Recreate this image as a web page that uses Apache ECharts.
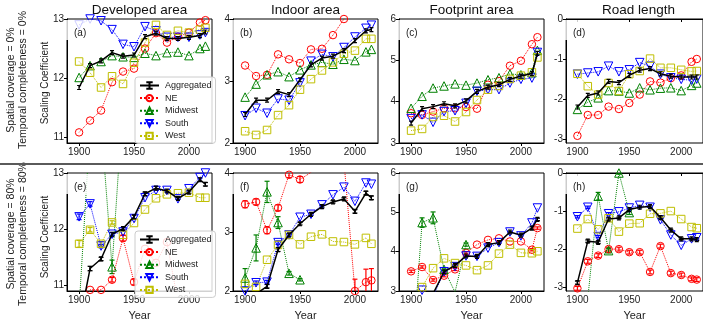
<!DOCTYPE html>
<html>
<head>
<meta charset="utf-8">
<script src="https://cdn.jsdelivr.net/npm/echarts@6/dist/echarts.min.js"></script>
<style>
  html, body { margin: 0; padding: 0; background: #fff; }
  #chart { width: 703px; height: 322px; }
</style>
</head>
<body>
<div id="chart"></div>
<script>
// years sampled in every panel
const years = [1900, 1910, 1920, 1930, 1940, 1950, 1960, 1970, 1980, 1990, 2000, 2010, 2015]

// top row: spatial coverage = 0%, temporal completeness = 0%
const panelA = {
  agg:   [11.84, 12.21, 12.29, 12.43, 12.37, 12.39, 12.70, 12.76, 12.67, 12.67, 12.69, 12.72, 12.78],
  ne:    [11.08, 11.28, 11.45, 11.93, 12.11, 12.16, 12.50, 12.76, 12.60, 12.70, 12.77, 12.94, 12.98],
  mw:    [12.01, 12.21, 12.28, 12.38, 12.36, 12.35, 12.42, 12.38, 12.43, 12.44, 12.38, 12.50, 12.54],
  south: [12.90, 13.00, 12.97, 12.82, 12.57, 12.53, 12.87, 12.80, 12.69, 12.69, 12.69, 12.73, 12.77],
  west:  [12.28, 12.09, 11.84, 12.03, 11.90, 12.26, 12.60, 12.90, 12.73, 12.80, 12.77, 12.82, 12.85]
}
const panelB = {
  agg:   [2.46, 2.69, 2.69, 2.83, 2.78, 3.02, 3.26, 3.37, 3.40, 3.49, 3.65, 3.81, 3.83],
  ne:    [3.25, 3.08, 3.10, 3.43, 3.35, 3.29, 3.51, 3.52, 3.74, 4.00, 4.20, 4.30, 4.35],
  mw:    [2.74, 2.95, 3.10, 3.15, 3.07, 3.18, 3.26, 3.30, 3.27, 3.35, 3.33, 3.47, 3.51],
  south: [2.44, 2.56, 2.48, 2.71, 2.69, 2.97, 3.32, 3.43, 3.39, 3.54, 3.71, 3.85, 3.90],
  west:  [2.19, 2.13, 2.21, 2.45, 2.61, 2.86, 3.03, 3.17, 3.30, 3.44, 3.49, 3.68, 3.68]
}
const panelC = {
  agg:   [3.48, 3.83, 3.88, 3.95, 3.90, 4.02, 4.25, 4.35, 4.41, 4.54, 4.62, 4.68, 5.17],
  ne:    [3.72, 3.68, 3.76, 3.84, 3.84, 3.87, 3.83, 4.41, 4.50, 4.87, 4.99, 5.39, 5.56],
  mw:    [3.84, 4.13, 4.33, 4.38, 4.43, 4.40, 4.45, 4.53, 4.58, 4.67, 4.65, 4.70, 5.24],
  south: [3.59, 3.68, 3.50, 3.76, 3.78, 3.96, 4.25, 4.29, 4.29, 4.45, 4.54, 4.57, 5.19],
  west:  [3.30, 3.34, 3.63, 3.66, 3.52, 3.75, 4.04, 4.29, 4.38, 4.55, 4.63, 4.71, 5.07]
}
const panelD = {
  agg:   [-2.20, -1.91, -1.85, -1.56, -1.59, -1.41, -1.28, -1.24, -1.37, -1.43, -1.45, -1.45, -1.45],
  ne:    [-2.92, -2.40, -2.40, -2.19, -2.25, -2.10, -1.89, -1.56, -1.59, -1.48, -1.41, -1.07, -1.00],
  mw:    [-2.26, -2.08, -1.97, -1.79, -1.80, -1.85, -1.72, -1.77, -1.73, -1.72, -1.79, -1.66, -1.60],
  south: [-1.38, -1.35, -1.32, -1.18, -1.32, -1.27, -1.09, -1.18, -1.38, -1.47, -1.51, -1.53, -1.50],
  west:  [-1.37, -1.68, -1.89, -1.60, -1.80, -1.38, -1.30, -0.99, -1.22, -1.22, -1.27, -1.31, -1.30]
}

// bottom row: spatial coverage = 80%, temporal completeness = 80%
const panelE = {
  agg:   [10.30, 11.30, 11.47, 11.91, 12.01, 12.22, 12.63, 12.73, 12.68, 12.55, 12.66, 12.88, 12.80],
  ne:    [10.50, 10.92, 10.92, 11.10, 11.84, 11.06, 11.65, 11.40, 11.77, 10.70, 10.60, 10.50, 10.50],
  mw:    [10.60, 13.80, 13.90, 11.33, 14.26, null, null, null, null, null, null, null, null],
  south: [12.22, 12.45, 11.70, 11.91, 11.95, 12.19, 12.56, 12.69, 12.69, 12.54, 12.72, 12.92, 13.00],
  west:  [11.74, 11.99, 11.74, 12.12, 11.90, 12.11, 12.35, 12.55, 12.62, 12.64, 12.65, 12.56, 12.56]
}
const panelF = {
  agg:   [1.60, 1.95, 2.08, 2.70, 2.95, 3.14, 3.30, 3.43, 3.51, 3.56, 3.35, 3.66, 3.58],
  ne:    [3.47, 3.51, 3.03, 3.41, 3.97, 3.89, 4.01, 4.20, 4.30, 4.20, 2.00, 2.15, 2.18],
  mw:    [2.22, 2.73, 3.68, 3.16, 2.30, 2.19, null, null, null, null, null, null, null],
  south: [2.00, 2.14, 2.15, 2.82, 2.95, 3.25, 3.30, 3.46, 3.63, 3.76, 3.52, 3.83, 3.81],
  west:  [2.12, 2.07, 2.53, 2.78, 2.95, 2.79, 2.92, 2.96, 2.84, 2.83, 2.79, 2.90, 2.80]
}
const panelG = {
  agg:   [2.40, 2.70, 2.93, 3.49, 3.65, 3.89, 3.88, 4.18, 4.23, 4.50, 4.42, 4.60, 4.82],
  ne:    [3.50, 3.61, 3.28, 3.39, 3.55, 3.97, 4.18, 4.30, 4.34, 4.26, 4.26, 4.05, 4.60],
  mw:    [0.90, 4.74, 4.86, 3.55, 2.97, 4.18, null, null, null, null, null, null, null],
  south: [null, 3.02, 2.85, 3.49, 3.62, 3.89, 3.88, 4.09, 4.23, 4.50, 4.40, 4.73, 5.11],
  west:  [null, 3.10, 3.58, 3.83, 3.71, 3.65, 3.53, 3.65, 3.95, 4.18, 3.97, 3.96, 4.01]
}
const panelH = {
  agg:   [-2.88, -1.79, -1.82, -1.21, -1.18, -0.96, -0.90, -0.88, -1.17, -1.50, -1.73, -1.73, -1.75],
  ne:    [-3.03, -2.32, -2.17, -2.00, -2.00, -2.08, -2.08, -2.60, -1.92, -2.63, -2.68, -2.78, -2.80],
  mw:    [-3.60, -3.30, -0.61, -2.04, 0.00, -1.04, null, null, null, null, null, null, null],
  south: [-1.15, -0.90, -1.67, -1.07, -1.02, -0.92, -0.85, -0.90, -1.23, -1.63, -1.90, -1.73, -1.70],
  west:  [-1.46, -1.21, -1.48, -1.19, -1.54, -1.33, -1.32, -1.07, -1.06, -1.00, -1.21, -1.42, -1.45]
}

// error bar half widths (only where they are visible)
const errE = {
  agg:   [0, 0.04, 0.03, 0.03, 0.02, 0.03, 0.03, 0.03, 0.02, 0.02, 0.02, 0.03, 0.03],
  ne:    [0, 0, 0, 0.04, 0.05, 0.05, 0, 0, 0, 0, 0, 0, 0],
  mw:    [0, 0, 0, 0.12, 0, 0, 0, 0, 0, 0, 0, 0, 0],
  south: [0.05, 0.04, 0.03, 0.03, 0, 0, 0, 0, 0, 0, 0, 0, 0],
  west:  [0.06, 0.04, 0.04, 0.03, 0, 0, 0, 0, 0, 0, 0, 0, 0]
}
const errF = {
  agg:   [0, 0, 0.03, 0.03, 0.02, 0.02, 0.02, 0.02, 0.02, 0.02, 0.03, 0.03, 0.03],
  ne:    [0.06, 0.05, 0.06, 0.05, 0.05, 0.05, 0, 0, 0, 0, 0.2, 0.22, 0.2],
  mw:    [0.16, 0.22, 0.18, 0.1, 0.03, 0.02, 0, 0, 0, 0, 0, 0, 0],
  south: [0, 0.03, 0.03, 0.03, 0, 0, 0, 0, 0, 0, 0, 0, 0]
}
const errG = {
  agg:   [0, 0, 0, 0.03, 0.03, 0.02, 0.02, 0.02, 0.02, 0.02, 0.02, 0.03, 0.03],
  ne:    [0.03, 0.03, 0.03, 0.03, 0.03, 0.03, 0, 0, 0, 0, 0, 0.03, 0.03],
  mw:    [0, 0.12, 0.15, 0.04, 0, 0.04, 0, 0, 0, 0, 0, 0, 0]
}
const errH = {
  agg:   [0.04, 0.03, 0.03, 0.03, 0.02, 0.02, 0.02, 0.02, 0.02, 0.02, 0.02, 0.02, 0.02],
  ne:    [0.05, 0.05, 0.05, 0.05, 0.05, 0.05, 0.05, 0.05, 0.05, 0.05, 0.05, 0.05, 0.05],
  mw:    [0, 0, 0.1, 0.06, 0.03, 0.05, 0, 0, 0, 0, 0, 0, 0],
  south: [0.03, 0.03, 0.03, 0.03, 0, 0, 0, 0, 0, 0, 0, 0, 0]
}

// axes
const titles = ['Developed area', 'Indoor area', 'Footprint area', 'Road length']
const panelTags = ['(a)', '(b)', '(c)', '(d)', '(e)', '(f)', '(g)', '(h)']
const yRanges = [[10.9, 13], [2, 4], [3, 6], [-3.1, 0]]
const yTicks = [[11, 12, 13], [2, 3, 4], [3, 4, 5, 6], [-3, -2, -1, 0]]
const xTicks = [1900, 1950, 2000]
const rowLabels = [
  ['Spatial coverage = 0%', 'Temporal completeness = 0%'],
  ['Spatial coverage = 80%', 'Temporal completeness = 80%']
]

const keys = ['agg', 'ne', 'mw', 'south', 'west']
const names = { agg: 'Aggregated', ne: 'NE', mw: 'Midwest', south: 'South', west: 'West' }
const colors = { agg: '#000000', ne: '#ff0000', mw: '#008000', south: '#0000ff', west: '#bfbf00' }

const FONT = "'Liberation Sans', Arial, sans-serif"
const lefts = [67, 233, 399, 566]
const tops = [19, 173]
const W = 145
const H = 124

const panels = [panelA, panelB, panelC, panelD, panelE, panelF, panelG, panelH]
const errs = [null, null, null, null, errE, errF, errG, errH]

let chart = echarts.init(document.getElementById('chart'), null, { renderer: 'canvas' })

let grids = []
let xAxes = []
let yAxes = []
let series = []
let graphics = []

// an I-beam, like a tiny error bar, for the aggregated points
const IBEAM = 'path://M0 0H6M3 0V10M0 10H6'

function markerOf (key) {
  if (key === 'ne') return { symbol: 'circle', symbolSize: 7.5 }
  if (key === 'mw') return { symbol: 'triangle', symbolSize: 8.5 }
  if (key === 'south') return { symbol: 'triangle', symbolSize: 8.5, symbolRotate: 180 }
  if (key === 'west') return { symbol: 'rect', symbolSize: 7.5 }
  return { symbol: IBEAM, symbolSize: [4, 4] }
}

// error bar with caps
function renderErr (params, api) {
  const x = api.value(0)
  const y = api.value(1)
  const e = api.value(2)
  const c = keys[api.value(3)]
  const p1 = api.coord([x, y + e])
  const p2 = api.coord([x, y - e])
  const style = { stroke: colors[c], lineWidth: 1.2 }
  return {
    type: 'group',
    children: [
      { type: 'line', shape: { x1: p1[0], y1: p1[1], x2: p2[0], y2: p2[1] }, style: style },
      { type: 'line', shape: { x1: p1[0] - 2.5, y1: p1[1], x2: p1[0] + 2.5, y2: p1[1] }, style: style },
      { type: 'line', shape: { x1: p2[0] - 2.5, y1: p2[1], x2: p2[0] + 2.5, y2: p2[1] }, style: style }
    ]
  }
}

panels.forEach((panel, i) => {
  const row = Math.floor(i / 4)
  const col = i % 4
  grids.push({
    left: lefts[col], top: tops[row], width: W, height: H,
    show: true, borderColor: '#000', borderWidth: 1, backgroundColor: '#fff'
  })
  xAxes.push({
    type: 'value', gridIndex: i, min: 1889, max: 2021,
    name: row === 1 ? 'Year' : '',
    nameLocation: 'middle', nameGap: 19,
    nameTextStyle: { fontFamily: FONT, fontSize: 11, color: '#222' },
    axisLine: { show: true, lineStyle: { color: '#000', width: 1 } },
    axisTick: { show: true, inside: false, length: 3, customValues: xTicks, lineStyle: { color: '#000' } },
    axisLabel: {
      customValues: xTicks, fontFamily: FONT, fontSize: 10, color: '#222', margin: 4,
      formatter: v => String(v)
    },
    splitLine: { show: false }
  })
  yAxes.push({
    type: 'value', gridIndex: i, min: yRanges[col][0], max: yRanges[col][1],
    axisLine: { show: true, lineStyle: { color: '#000', width: 1 } },
    axisTick: { show: true, inside: false, length: 3, customValues: yTicks[col], lineStyle: { color: '#000' } },
    axisLabel: {
      customValues: yTicks[col], fontFamily: FONT, fontSize: 10, color: '#222', margin: 3,
      formatter: v => String(v)
    },
    splitLine: { show: false }
  })

  keys.forEach((k) => {
    const c = colors[k]
    const isAgg = k === 'agg'
    series.push(Object.assign({
      type: 'line',
      name: names[k],
      xAxisIndex: i,
      yAxisIndex: i,
      data: years.map((yr, j) => [yr, panel[k][j] === null ? '-' : panel[k][j]]),
      clip: true,
      z: isAgg ? 3 : 2,
      lineStyle: { color: c, width: isAgg ? 1.5 : 1, type: isAgg ? 'solid' : 'dotted' },
      itemStyle: { color: 'rgba(255,255,255,0)', borderColor: c, borderWidth: isAgg ? 1.2 : 1 },
      emphasis: { disabled: true }
    }, markerOf(k)))
  })

  const err = errs[i]
  if (err) {
    keys.forEach((k, ki) => {
      if (!err[k]) return
      const rows = []
      years.forEach((yr, j) => {
        if (err[k][j] > 0 && panel[k][j] !== null) rows.push([yr, panel[k][j], err[k][j], ki])
      })
      series.push({
        type: 'custom',
        name: names[k],
        xAxisIndex: i,
        yAxisIndex: i,
        clip: true,
        z: 2,
        renderItem: renderErr,
        encode: { x: 0, y: 1 },
        data: rows
      })
    })
  }

  // panel tag with its translucent box
  graphics.push({
    type: 'rect', z: 50,
    shape: { x: lefts[col] - 1, y: tops[row] + 1, width: 30, height: 20 },
    style: { fill: 'rgba(255,255,255,0.8)' }
  })
  graphics.push({
    type: 'text', z: 51, x: lefts[col] + 7, y: tops[row] + 14,
    style: { text: panelTags[i], font: '10px ' + FONT, fill: '#222', textVerticalAlign: 'middle' }
  })
})

// column titles
titles.forEach((t, col) => {
  graphics.push({
    type: 'text', x: lefts[col] + W / 2, y: 3,
    style: { text: t, font: '13.5px ' + FONT, fill: '#111', textAlign: 'center' }
  })
})

// row labels and y-axis names
rowLabels.forEach((pair, row) => {
  const cy = tops[row] + H / 2
  graphics.push({
    type: 'text', x: 11, y: cy - 1, rotation: Math.PI / 2,
    style: { text: pair[0], font: '10.5px ' + FONT, fill: '#222', textAlign: 'center', textVerticalAlign: 'middle' }
  })
  graphics.push({
    type: 'text', x: 23, y: cy - 1, rotation: Math.PI / 2,
    style: { text: pair[1], font: '10.5px ' + FONT, fill: '#222', textAlign: 'center', textVerticalAlign: 'middle' }
  })
  graphics.push({
    type: 'text', x: 45, y: cy + 2, rotation: Math.PI / 2,
    style: { text: 'Scaling Coefficient', font: '10px ' + FONT, fill: '#222', textAlign: 'center', textVerticalAlign: 'middle' }
  })
})

// separator between the two rows
graphics.push({
  type: 'line', z: 60,
  shape: { x1: 0, y1: 164, x2: 703, y2: 164 },
  style: { stroke: '#5a5a5a', lineWidth: 2 }
})

const legendBase = {
  data: keys.map(k => names[k]),
  orient: 'vertical',
  left: 135,
  itemWidth: 19,
  itemHeight: 8,
  itemGap: 3.6,
  padding: [4, 4, 3, 4],
  backgroundColor: 'rgba(255,255,255,0.82)',
  borderColor: '#cccccc',
  borderWidth: 1,
  borderRadius: 3,
  selectedMode: false,
  textStyle: { fontFamily: FONT, fontSize: 9, color: '#222', padding: [0, 0, 0, 1] }
}

let option = {
  animation: false,
  backgroundColor: '#fff',
  grid: grids,
  xAxis: xAxes,
  yAxis: yAxes,
  legend: [
    Object.assign({}, legendBase, { top: 77 }),
    Object.assign({}, legendBase, { top: 231 })
  ],
  graphic: graphics,
  series: series
}

chart.setOption(option)
</script>
</body>
</html>
